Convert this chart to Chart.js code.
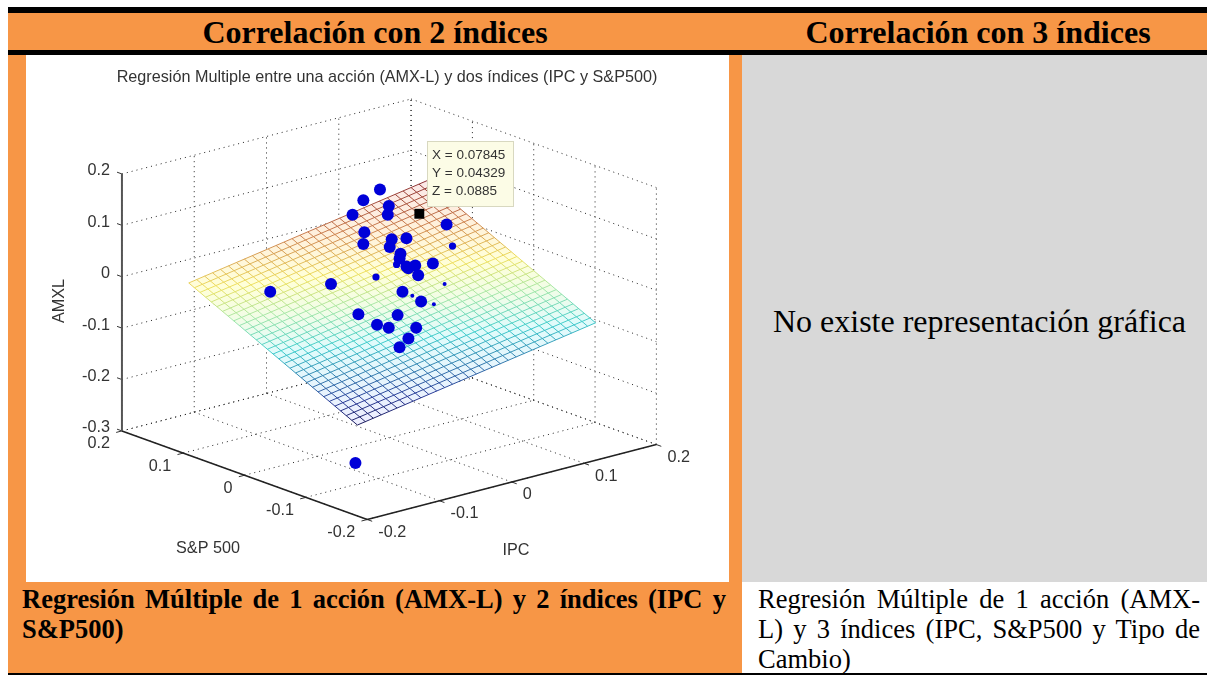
<!DOCTYPE html>
<html>
<head>
<meta charset="utf-8">
<script src="https://cdn.jsdelivr.net/npm/chart.js@4"></script>
<style>
html, body { margin: 0; padding: 0; background: #fff; }
body { width: 1207px; height: 675px; overflow: hidden; position: relative; font-family: "Liberation Serif", serif; color: #000; }
.box { position: absolute; }
.head { font-weight: bold; font-size: 32px; line-height: 37px; text-align: center; }
.line { position: absolute; font-size: 26.5px; line-height: 30px; white-space: nowrap; text-align: justify; text-align-last: justify; }
canvas { position: absolute; left: 26px; top: 55px; }
</style>
</head>
<body>
<div class="box" style="left:8px;top:7px;width:1199px;height:6px;background:#000"></div>
<div class="box" style="left:8px;top:13px;width:1199px;height:37px;background:#f79646"></div>
<div class="box" style="left:8px;top:50px;width:1199px;height:5px;background:#000"></div>
<div class="box head" style="left:8px;top:14px;width:734px">Correlación con 2 índices</div>
<div class="box head" style="left:742px;top:14px;width:472px">Correlación con 3 índices</div>
<div class="box" style="left:8px;top:55px;width:18px;height:527px;background:#f79646"></div>
<div class="box" style="left:729px;top:55px;width:13px;height:527px;background:#f79646"></div>
<div class="box" style="left:742px;top:55px;width:465px;height:527px;background:#d8d8d8"></div>
<div class="box" style="left:742px;top:302px;width:475px;text-align:center;font-size:32px;line-height:38px">No existe representación gráfica</div>
<div class="box" style="left:8px;top:582px;width:734px;height:91px;background:#f79646"></div>
<div class="box" style="left:8px;top:673px;width:1199px;height:2px;background:#000"></div>
<div class="line" style="left:22px;top:584px;width:704px;font-weight:bold">Regresión Múltiple de 1 acción (AMX-L) y 2 índices (IPC y</div>
<div class="line" style="left:22px;top:614px;font-weight:bold;text-align-last:left">S&amp;P500)</div>
<div class="line" style="left:758px;top:584px;width:442px">Regresión Múltiple de 1 acción (AMX-</div>
<div class="line" style="left:758px;top:614px;width:442px">L) y 3 índices (IPC, S&amp;P500 y Tipo de</div>
<div class="line" style="left:758px;top:644px;text-align-last:left">Cambio)</div>
<canvas id="plot" width="703" height="527"></canvas>
<script>
var ipcTicks = [-0.2, -0.1, 0, 0.1, 0.2];
var spTicks = [-0.2, -0.1, 0, 0.1, 0.2];
var amxTicks = [-0.3, -0.2, -0.1, 0, 0.1, 0.2];
var tickText = { '-0.3': '-0.3', '-0.2': '-0.2', '-0.1': '-0.1', '0': '0', '0.1': '0.1', '0.2': '0.2' };

// blue dots: IPC, S&P 500, AMXL
var dotIpc = [0.0459,0.0190,-0.0068,0.0360,0.0255,0.0688,-0.0150,-0.0287,0.0026,-0.0077,0.0172,-0.0052,-0.0113,0.0139,-0.0044,-0.0135,-0.0139,-0.0123,-0.0447,-0.0383,-0.1095,-0.0746,-0.1040,-0.0965,-0.0714,-0.0901,-0.1078,-0.1659,-0.1017,-0.1409];
var dotSp = [0.0691,0.0645,0.0517,0.0430,0.0323,-0.0126,0.0228,0.0083,-0.0011,-0.0100,-0.0079,-0.0246,-0.0303,-0.0549,-0.0477,-0.0441,-0.0477,-0.0618,-0.0744,-0.0972,-0.0789,-0.1017,-0.1028,-0.1131,-0.1282,-0.1376,-0.1440,-0.0016,-0.0250,-0.1111];
var dotAmx = [0.1365,0.1274,0.1139,0.1192,0.1105,0.0951,0.0954,0.0838,0.0859,0.0783,0.0855,0.0705,0.0658,0.0577,0.0574,0.0573,0.0552,0.0474,0.0325,0.0209,0.0144,0.0096,0.0020,-0.0021,-0.0048,-0.0147,-0.0226,0.0453,0.0472,-0.2500];

// dots that sink into the surface, only a piece shows
var halfIpc = [0.0738,0.0025,-0.0302];
var halfSp = [-0.0163,-0.0092,-0.0141];
var halfAmx = [0.0531,0.0402,0.0296];
var chipIpc = [0.0253,-0.0170,-0.0068];
var chipSp = [-0.0606,-0.0578,-0.0809];
var chipAmx = [0.0161,0.0076,-0.0031];

// data tip
var tipIpc = [0.07845];
var tipSp = [0.04329];
var tipAmx = [0.0885];

// regression surface, grid lines and height at both ends of each line
var meshIpc = [-0.2082,-0.1972,-0.1862,-0.1753,-0.1643,-0.1533,-0.1423,-0.1313,-0.1203,-0.1094,-0.0984,-0.0874,-0.0764,-0.0654,-0.0544,-0.0435,-0.0325,-0.0215,-0.0105,0.0005,0.0115,0.0224,0.0334,0.0444,0.0554,0.0664,0.0774,0.0883,0.0993,0.1103,0.1213];
var meshSp = [-0.1936,-0.1844,-0.1753,-0.1661,-0.1569,-0.1478,-0.1386,-0.1294,-0.1203,-0.1111,-0.1019,-0.0928,-0.0836,-0.0744,-0.0653,-0.0561,-0.0469,-0.0378,-0.0286,-0.0194,-0.0103,-0.0011,0.0081,0.0172,0.0264,0.0356,0.0447,0.0539,0.0631,0.0722,0.0814];
var amxAtSpLow = [-0.1160,-0.1134,-0.1107,-0.1081,-0.1055,-0.1029,-0.1002,-0.0976,-0.0950,-0.0924,-0.0897,-0.0871,-0.0845,-0.0818,-0.0792,-0.0766,-0.0740,-0.0713,-0.0687,-0.0661,-0.0635,-0.0608,-0.0582,-0.0556,-0.0530,-0.0503,-0.0477,-0.0451,-0.0424,-0.0398,-0.0372];
var amxAtSpHigh = [0.0420,0.0446,0.0473,0.0499,0.0525,0.0551,0.0578,0.0604,0.0630,0.0656,0.0683,0.0709,0.0735,0.0762,0.0788,0.0814,0.0840,0.0867,0.0893,0.0919,0.0945,0.0972,0.0998,0.1024,0.1050,0.1077,0.1103,0.1129,0.1156,0.1182,0.1208];
var amxAtIpcLow = [-0.1160,-0.1107,-0.1055,-0.1002,-0.0949,-0.0897,-0.0844,-0.0791,-0.0739,-0.0686,-0.0633,-0.0581,-0.0528,-0.0475,-0.0423,-0.0370,-0.0317,-0.0265,-0.0212,-0.0159,-0.0107,-0.0054,-0.0001,0.0051,0.0104,0.0157,0.0209,0.0262,0.0315,0.0367,0.0420];
var amxAtIpcHigh = [-0.0372,-0.0319,-0.0267,-0.0214,-0.0161,-0.0109,-0.0056,-0.0003,0.0049,0.0102,0.0155,0.0207,0.0260,0.0313,0.0365,0.0418,0.0471,0.0523,0.0576,0.0629,0.0681,0.0734,0.0787,0.0839,0.0892,0.0945,0.0997,0.1050,0.1103,0.1155,0.1208];

// matlab view of the box, data units to page units
function view(ipc, sp, amx) {
  return {
    x: 389.4 + 737.5 * ipc - 625.75 * sp,
    y: 441 - 192.5 * ipc - 227.5 * sp - 528 * (amx + 0.3)
  };
}

var datasets = [];

function addLine(points, color, width, dash, order) {
  datasets.push({
    data: points, showLine: true, borderColor: color, borderWidth: width,
    borderDash: dash, pointRadius: 0, fill: false, order: order
  });
}

function addDots(ipc, sp, amx, radius, style, color, order) {
  var pts = [];
  for (var i = 0; i < ipc.length; i++) pts.push(view(ipc[i], sp[i], amx[i]));
  datasets.push({
    data: pts, showLine: false, pointRadius: radius, pointStyle: style,
    backgroundColor: color, borderColor: color, borderWidth: 0, order: order
  });
}

// colours follow the height, on a plane that is a straight ramp on screen
function ramp(chart, stops) {
  var last = meshIpc.length - 1;
  var f = view(meshIpc[0], meshSp[0], amxAtSpLow[0]);
  var r = view(meshIpc[last], meshSp[0], amxAtSpLow[last]);
  var l = view(meshIpc[0], meshSp[last], amxAtSpHigh[0]);
  var dzr = amxAtSpLow[last] - amxAtSpLow[0];
  var dzl = amxAtSpHigh[0] - amxAtSpLow[0];
  var ux = r.x - f.x, uy = r.y - f.y, vx = l.x - f.x, vy = l.y - f.y;
  var det = ux * vy - uy * vx;
  var gx = (dzr * vy - dzl * uy) / det;
  var gy = (ux * dzl - vx * dzr) / det;
  var span = amxAtSpHigh[last] - amxAtSpLow[0];
  var k = span / (gx * gx + gy * gy);
  var sx = chart.scales.x, sy = chart.scales.y;
  if (!sx || !sy) return stops[0][1];
  var x0 = sx.getPixelForValue(f.x), y0 = sy.getPixelForValue(f.y);
  var x1 = sx.getPixelForValue(f.x + gx * k), y1 = sy.getPixelForValue(f.y + gy * k);
  // scales have no pixels yet on the first pass
  if (!isFinite(x0) || !isFinite(y0) || !isFinite(x1) || !isFinite(y1)) return stops[0][1];
  var g = chart.ctx.createLinearGradient(x0, y0, x1, y1);
  stops.forEach(function (s) { g.addColorStop(s[0], s[1]); });
  return g;
}

var lineStops = [[0, '#1c1c5c'], [0.1, '#2c3c98'], [0.34, '#40cccc'], [0.5, '#a8e8a8'], [0.64, '#eee060'], [0.82, '#cc8050'], [1, '#8c3034']];
var faceStops = [[0, '#eeeeff'], [0.34, '#e0fbfb'], [0.5, '#f2fde6'], [0.64, '#ffffd8'], [0.82, '#fff0dc'], [1, '#fbe8e8']];

// box grid on floor and back walls
var ipcLow = ipcTicks[0], ipcHigh = ipcTicks[ipcTicks.length - 1];
var spLow = spTicks[0], spHigh = spTicks[spTicks.length - 1];
var amxLow = amxTicks[0], amxHigh = amxTicks[amxTicks.length - 1];
var dots = [1, 4];

ipcTicks.forEach(function (v) {
  addLine([view(v, spLow, amxLow), view(v, spHigh, amxLow)], '#222', 1, dots, 9);
  addLine([view(v, spHigh, amxLow), view(v, spHigh, amxHigh)], '#222', 1, dots, 9);
});
spTicks.forEach(function (v) {
  addLine([view(ipcLow, v, amxLow), view(ipcHigh, v, amxLow)], '#222', 1, dots, 9);
  addLine([view(ipcHigh, v, amxLow), view(ipcHigh, v, amxHigh)], '#222', 1, dots, 9);
});
amxTicks.forEach(function (v) {
  addLine([view(ipcLow, spHigh, v), view(ipcHigh, spHigh, v)], '#222', 1, dots, 9);
  addLine([view(ipcHigh, spHigh, v), view(ipcHigh, spLow, v)], '#222', 1, dots, 9);
});

// axes and tick marks
addLine([view(ipcLow, spHigh, amxLow), view(ipcLow, spHigh, amxHigh)], '#555', 2, [], 3);
addLine([view(ipcLow, spHigh, amxLow), view(ipcLow, spLow, amxLow)], '#222', 1.5, [], 3);
addLine([view(ipcLow, spLow, amxLow), view(ipcHigh, spLow, amxLow)], '#222', 1.5, [], 3);
amxTicks.forEach(function (v) {
  addLine([view(ipcLow, spHigh, v), view(ipcLow, spHigh + 0.008, v)], '#333', 1, [], 3);
});
spTicks.forEach(function (v) {
  addLine([view(ipcLow, v, amxLow), view(ipcLow - 0.008, v, amxLow)], '#333', 1, [], 3);
});
ipcTicks.forEach(function (v) {
  addLine([view(v, spLow, amxLow), view(v, spLow - 0.008, amxLow)], '#333', 1, [], 3);
});

// surface, one filled outline and the mesh on top
var lastI = meshIpc.length - 1, lastJ = meshSp.length - 1;
datasets.push({
  data: [
    view(meshIpc[0], meshSp[0], amxAtSpLow[0]),
    view(meshIpc[lastI], meshSp[0], amxAtSpLow[lastI]),
    view(meshIpc[lastI], meshSp[lastJ], amxAtSpHigh[lastI]),
    view(meshIpc[0], meshSp[lastJ], amxAtSpHigh[0]),
    view(meshIpc[0], meshSp[0], amxAtSpLow[0])
  ],
  showLine: true, pointRadius: 0, borderWidth: 0, fill: 'shape', order: 8,
  backgroundColor: function (c) { return ramp(c.chart, faceStops); }
});
function meshColor(c) { return ramp(c.chart, lineStops); }
meshIpc.forEach(function (v, i) {
  addLine([view(v, meshSp[0], amxAtSpLow[i]), view(v, meshSp[lastJ], amxAtSpHigh[i])], meshColor, 1, [], 7);
});
meshSp.forEach(function (v, j) {
  addLine([view(meshIpc[0], v, amxAtIpcLow[j]), view(meshIpc[lastI], v, amxAtIpcHigh[j])], meshColor, 1, [], 7);
});

addDots(dotIpc, dotSp, dotAmx, 6, 'circle', '#0000d8', 2);
addDots(halfIpc, halfSp, halfAmx, 3.6, 'circle', '#0000d8', 2);
addDots(chipIpc, chipSp, chipAmx, 2, 'circle', '#0000d8', 2);
addDots(tipIpc, tipSp, tipAmx, 7, 'rect', '#000', 1);

var textPlugin = {
  id: 'plotText',
  afterDatasetsDraw: function (chart) {
    var ctx = chart.ctx, sx = chart.scales.x, sy = chart.scales.y;
    function px(p) { return { x: sx.getPixelForValue(p.x), y: sy.getPixelForValue(p.y) }; }
    ctx.save();
    ctx.font = '16.2px "Liberation Sans", sans-serif';
    ctx.fillStyle = '#333';
    ctx.textBaseline = 'middle';

    ctx.textAlign = 'center';
    ctx.fillText('Regresión Multiple entre una acción (AMX-L) y dos índices (IPC y S&P500)', 361, 23);

    ctx.textAlign = 'right';
    amxTicks.forEach(function (v) {
      var p = px(view(ipcLow, spHigh, v));
      ctx.fillText(tickText[v], p.x - 12, p.y - 3);
    });
    spTicks.forEach(function (v) {
      var p = px(view(ipcLow, v, amxLow));
      ctx.fillText(tickText[v], p.x - 12, p.y + 13);
    });
    ctx.textAlign = 'left';
    ipcTicks.forEach(function (v) {
      var p = px(view(v, spLow, amxLow));
      ctx.fillText(tickText[v], p.x + 11, p.y + 13);
    });

    ctx.textAlign = 'center';
    ctx.fillText('S&P 500', 182, 494);
    ctx.fillText('IPC', 490, 496);
    ctx.save();
    ctx.translate(34, 246);
    ctx.rotate(-Math.PI / 2);
    ctx.fillText('AMXL', 0, 0);
    ctx.restore();

    // data tip box
    ctx.fillStyle = '#fcfce6';
    ctx.strokeStyle = '#d8d8c0';
    ctx.lineWidth = 1;
    ctx.fillRect(401.5, 86.5, 86, 65);
    ctx.strokeRect(401.5, 86.5, 86, 65);
    ctx.fillStyle = '#333';
    ctx.textAlign = 'left';
    ctx.font = '13.5px "Liberation Sans", sans-serif';
    ctx.fillText('X = ' + tipIpc[0], 406, 100);
    ctx.fillText('Y = ' + tipSp[0], 406, 118);
    ctx.fillText('Z = ' + tipAmx[0], 406, 136);
    ctx.restore();
  }
};

new Chart(document.getElementById('plot'), {
  type: 'scatter',
  data: { datasets: datasets },
  plugins: [textPlugin],
  options: {
    responsive: false,
    animation: false,
    events: [],
    layout: { padding: 0 },
    scales: {
      x: { type: 'linear', display: false, min: 26, max: 729 },
      y: { type: 'linear', display: false, min: 55, max: 582, reverse: true }
    },
    plugins: { legend: { display: false }, tooltip: { enabled: false }, title: { display: false } }
  }
});
</script>
</body>
</html>
